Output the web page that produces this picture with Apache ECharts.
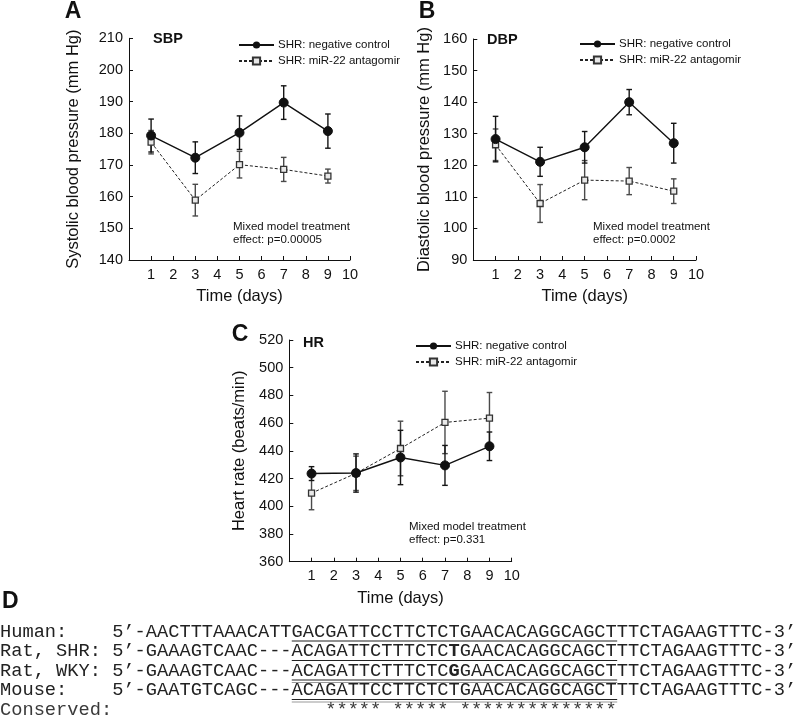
<!DOCTYPE html>
<html>
<head>
<meta charset="utf-8">
<script src="https://cdn.jsdelivr.net/npm/echarts@6/dist/echarts.min.js"></script>
<style>
  html, body { margin: 0; padding: 0; background: #fff; }
  #main { width: 797px; height: 718px; }
</style>
</head>
<body>
<div id="main"></div>
<script>
// ---- data ----
const days = [1, 3, 5, 7, 9];
const seriesNames = ['SHR: negative control', 'SHR: miR-22 antagomir'];

const sbpCtrl = [179.3, 172.3, 180.2, 189.7, 180.7];
const sbpCtrlErr = [5.2, 5.0, 5.3, 5.3, 5.4];
const sbpAnti = [177.2, 158.9, 170.1, 168.6, 166.5];
const sbpAntiErr = [3.7, 5.0, 4.2, 3.8, 2.2];

const dbpCtrl = [128.3, 121.1, 125.7, 140.0, 127.0];
const dbpCtrlErr = [7.2, 4.6, 5.0, 4.0, 6.3];
const dbpAnti = [126.5, 107.9, 115.3, 115.0, 111.8];
const dbpAntiErr = [5.0, 6.0, 6.2, 4.3, 3.9];

const hrCtrl = [423.6, 424.0, 435.2, 429.5, 443.3];
const hrCtrlErr = [5.0, 13.8, 19.6, 14.4, 10.3];
const hrAnti = [409.5, 423.8, 441.7, 460.5, 463.6];
const hrAntiErr = [12.0, 12.4, 19.7, 22.5, 18.5];

// y axis ranges [min, max, step]
const sbpAxis = [140, 210, 10];
const dbpAxis = [90, 160, 10];
const hrAxis = [360, 520, 20];
const dayAxis = [0, 10, 1];

const panelTitles = ['SBP', 'DBP', 'HR'];
const yTitles = ['Systolic blood pressure (mm Hg)', 'Diastolic blood pressure (mm Hg)', 'Heart rate (beats/min)'];
const pValues = ['effect: p=0.00005', 'effect: p=0.0002', 'effect: p=0.331'];

// sequence alignment (panel D)
const seqLabels = ['Human:', 'Rat, SHR:', 'Rat, WKY:', 'Mouse:'];
const seqPre = ['5’-AACTTTAAACATT', '5’-GAAAGTCAAC---', '5’-GAAAGTCAAC---', '5’-GAATGTCAGC---'];
const seqCore = ['GACGATTCCTTCTCTGAACACAGGCAGCT', 'ACAGATTCTTTCTCTGAACACAGGCAGCT',
                 'ACAGATTCTTTCTCGGAACACAGGCAGCT', 'ACAGATTCCTTCTCTGAACACAGGCAGCT'];
const seqPost = ['TTCTAGAAGTTTC-3’', 'TTCTAGAAGTTTC-3’', 'TTCTAGAAGTTTC-3’', 'TTCTAGAAGTTTC-3’'];
const seqBold = [-1, 14, 14, -1];
const conserved = '   ***** ***** **************';

// ---- layout ----
const SANS = "'Liberation Sans', Arial, sans-serif";
const MONO = "'Liberation Mono', 'Courier New', monospace";
const grids = [
  { left: 129, top: 38.3, width: 221, height: 221.7 },
  { left: 473.3, top: 39, width: 222.7, height: 221 },
  { left: 289.3, top: 340, width: 222.4, height: 221.7 }
];
const yAxes = [sbpAxis, dbpAxis, hrAxis];
const yNameGap = [47, 40, 41];
const ctrl = [[sbpCtrl, sbpCtrlErr], [dbpCtrl, dbpCtrlErr], [hrCtrl, hrCtrlErr]];
const anti = [[sbpAnti, sbpAntiErr], [dbpAnti, dbpAntiErr], [hrAnti, hrAntiErr]];

function errData(vals, errs) {
  return days.map((d, i) => [d, vals[i] - errs[i], vals[i] + errs[i]]);
}
function errRender(color) {
  return function (params, api) {
    const x = api.value(0);
    const lo = api.coord([x, api.value(1)]);
    const hi = api.coord([x, api.value(2)]);
    const w = 2.8;
    const st = { stroke: color, lineWidth: 1.4 };
    return {
      type: 'group',
      children: [
        { type: 'line', shape: { x1: hi[0], y1: hi[1], x2: lo[0], y2: lo[1] }, style: st },
        { type: 'line', shape: { x1: hi[0] - w, y1: hi[1], x2: hi[0] + w, y2: hi[1] }, style: st },
        { type: 'line', shape: { x1: lo[0] - w, y1: lo[1], x2: lo[0] + w, y2: lo[1] }, style: st }
      ]
    };
  };
}

const xAxis = [], yAxis = [], series = [], legend = [];
grids.forEach((g, k) => {
  xAxis.push({
    gridIndex: k, type: 'value', min: dayAxis[0], max: dayAxis[1], interval: dayAxis[2],
    name: 'Time (days)', nameLocation: 'middle', nameGap: 28,
    nameTextStyle: { fontFamily: SANS, fontSize: 16.5, color: '#111' },
    axisLine: { lineStyle: { color: '#111', width: 1 } },
    axisTick: { inside: true, length: 4, lineStyle: { color: '#111' } },
    axisLabel: { fontFamily: SANS, fontSize: 14.5, color: '#111', margin: 7,
      formatter: v => (v === 0 ? '' : v) },
    splitLine: { show: false }
  });
  yAxis.push({
    gridIndex: k, type: 'value', min: yAxes[k][0], max: yAxes[k][1], interval: yAxes[k][2],
    name: yTitles[k], nameLocation: 'middle', nameGap: yNameGap[k],
    nameTextStyle: { fontFamily: SANS, fontSize: 16.5, color: '#111' },
    axisLine: { show: true, lineStyle: { color: '#111', width: 1 } },
    axisTick: { show: true, inside: true, length: 4, lineStyle: { color: '#111' } },
    axisLabel: { fontFamily: SANS, fontSize: 14.5, color: '#111', margin: 6 },
    splitLine: { show: false }
  });
  series.push({
    type: 'custom', xAxisIndex: k, yAxisIndex: k, z: 1, silent: true,
    renderItem: errRender('#4a4a4a'), data: errData(anti[k][0], anti[k][1])
  });
  series.push({
    type: 'custom', xAxisIndex: k, yAxisIndex: k, z: 1, silent: true,
    renderItem: errRender('#151515'), data: errData(ctrl[k][0], ctrl[k][1])
  });
  series.push({
    name: seriesNames[1], type: 'line', xAxisIndex: k, yAxisIndex: k, z: 3,
    data: days.map((d, i) => [d, anti[k][0][i]]),
    symbol: 'rect', symbolSize: 6,
    lineStyle: { color: '#222', width: 1, type: [3, 2] },
    itemStyle: { color: '#e8e8e8', borderColor: '#333', borderWidth: 1.3 }
  });
  series.push({
    name: seriesNames[0], type: 'line', xAxisIndex: k, yAxisIndex: k, z: 4,
    data: days.map((d, i) => [d, ctrl[k][0][i]]),
    symbol: 'circle', symbolSize: 9,
    lineStyle: { color: '#111', width: 1.4 },
    itemStyle: { color: '#111', borderColor: '#111' }
  });
});

const legendPos = [[233, 34], [574, 33], [410, 335]];
legendPos.forEach(p => {
  legend.push({
    left: p[0], top: p[1], orient: 'vertical', selectedMode: false,
    itemWidth: 35, itemHeight: 9, itemGap: 4,
    textStyle: { fontFamily: SANS, fontSize: 11.5, color: '#111', padding: [0, 0, 0, -1] },
    data: seriesNames
  });
});

// ---- texts ----
const graphic = [];
function txt(x, y, s, font, align) {
  graphic.push({
    type: 'text', x: x, y: y, silent: true,
    style: { text: s, font: font, fill: '#111', align: align || 'left', textAlign: align || 'left',
             verticalAlign: 'middle', textVerticalAlign: 'middle' }
  });
}
// panel letters
txt(73, 12, 'A', 'bold 23px ' + SANS, 'center');
txt(427, 12, 'B', 'bold 23px ' + SANS, 'center');
txt(240, 335, 'C', 'bold 23px ' + SANS, 'center');
txt(2, 602, 'D', 'bold 23px ' + SANS, 'left');
// panel titles
const titlePos = [[153, 39], [487, 40], [303, 343]];
titlePos.forEach((p, k) => txt(p[0], p[1], panelTitles[k], 'bold 14.5px ' + SANS));
// mixed model annotations
const notePos = [[233, 227], [593, 227], [409, 527]];
notePos.forEach((p, k) => {
  txt(p[0], p[1], 'Mixed model treatment', '11.5px ' + SANS);
  txt(p[0], p[1] + 13, pValues[k], '11.5px ' + SANS);
});

// alignment
const fs = 18.7, cw = fs * 0.6001;
const rowY = [632, 651.5, 671, 690.5];
const coreCol = 10 + 16;
seqLabels.forEach((lab, r) => {
  const core = seqCore[r], b = seqBold[r];
  let line;
  if (b < 0) {
    line = '{n|' + lab.padEnd(10) + seqPre[r] + core + seqPost[r] + '}';
  } else {
    line = '{n|' + lab.padEnd(10) + seqPre[r] + core.slice(0, b) + '}{b|' + core[b] + '}{n|' +
      core.slice(b + 1) + seqPost[r] + '}';
  }
  graphic.push({
    type: 'text', x: 0, y: rowY[r], silent: true,
    style: {
      text: line, fill: '#222', verticalAlign: 'middle', textVerticalAlign: 'middle',
      rich: {
        n: { fontFamily: MONO, fontSize: fs, color: '#3a3a3a' },
        b: { fontFamily: MONO, fontSize: fs, fontWeight: 'bold', color: '#000' }
      }
    }
  });
  const x1 = coreCol * cw, x2 = (coreCol + core.length) * cw;
  graphic.push({ type: 'line', silent: true,
    shape: { x1: x1, y1: rowY[r] + 9, x2: x2, y2: rowY[r] + 9 },
    style: { stroke: '#222', lineWidth: 1 } });
  if (r >= 2) {
    graphic.push({ type: 'line', silent: true,
      shape: { x1: x1, y1: rowY[r] + 11.5, x2: x2, y2: rowY[r] + 11.5 },
      style: { stroke: '#999', lineWidth: 1.2 } });
  }
});
graphic.push({
  type: 'text', x: 0, y: 710, silent: true,
  style: { text: 'Conserved:'.padEnd(coreCol) + conserved, font: fs + 'px ' + MONO, fill: '#3a3a3a',
           verticalAlign: 'middle', textVerticalAlign: 'middle' }
});

const chart = echarts.init(document.getElementById('main'), null, { renderer: 'canvas' });
chart.setOption({
  animation: false,
  backgroundColor: '#fff',
  grid: grids,
  xAxis: xAxis,
  yAxis: yAxis,
  legend: legend,
  series: series,
  graphic: graphic
});
</script>
</body>
</html>
